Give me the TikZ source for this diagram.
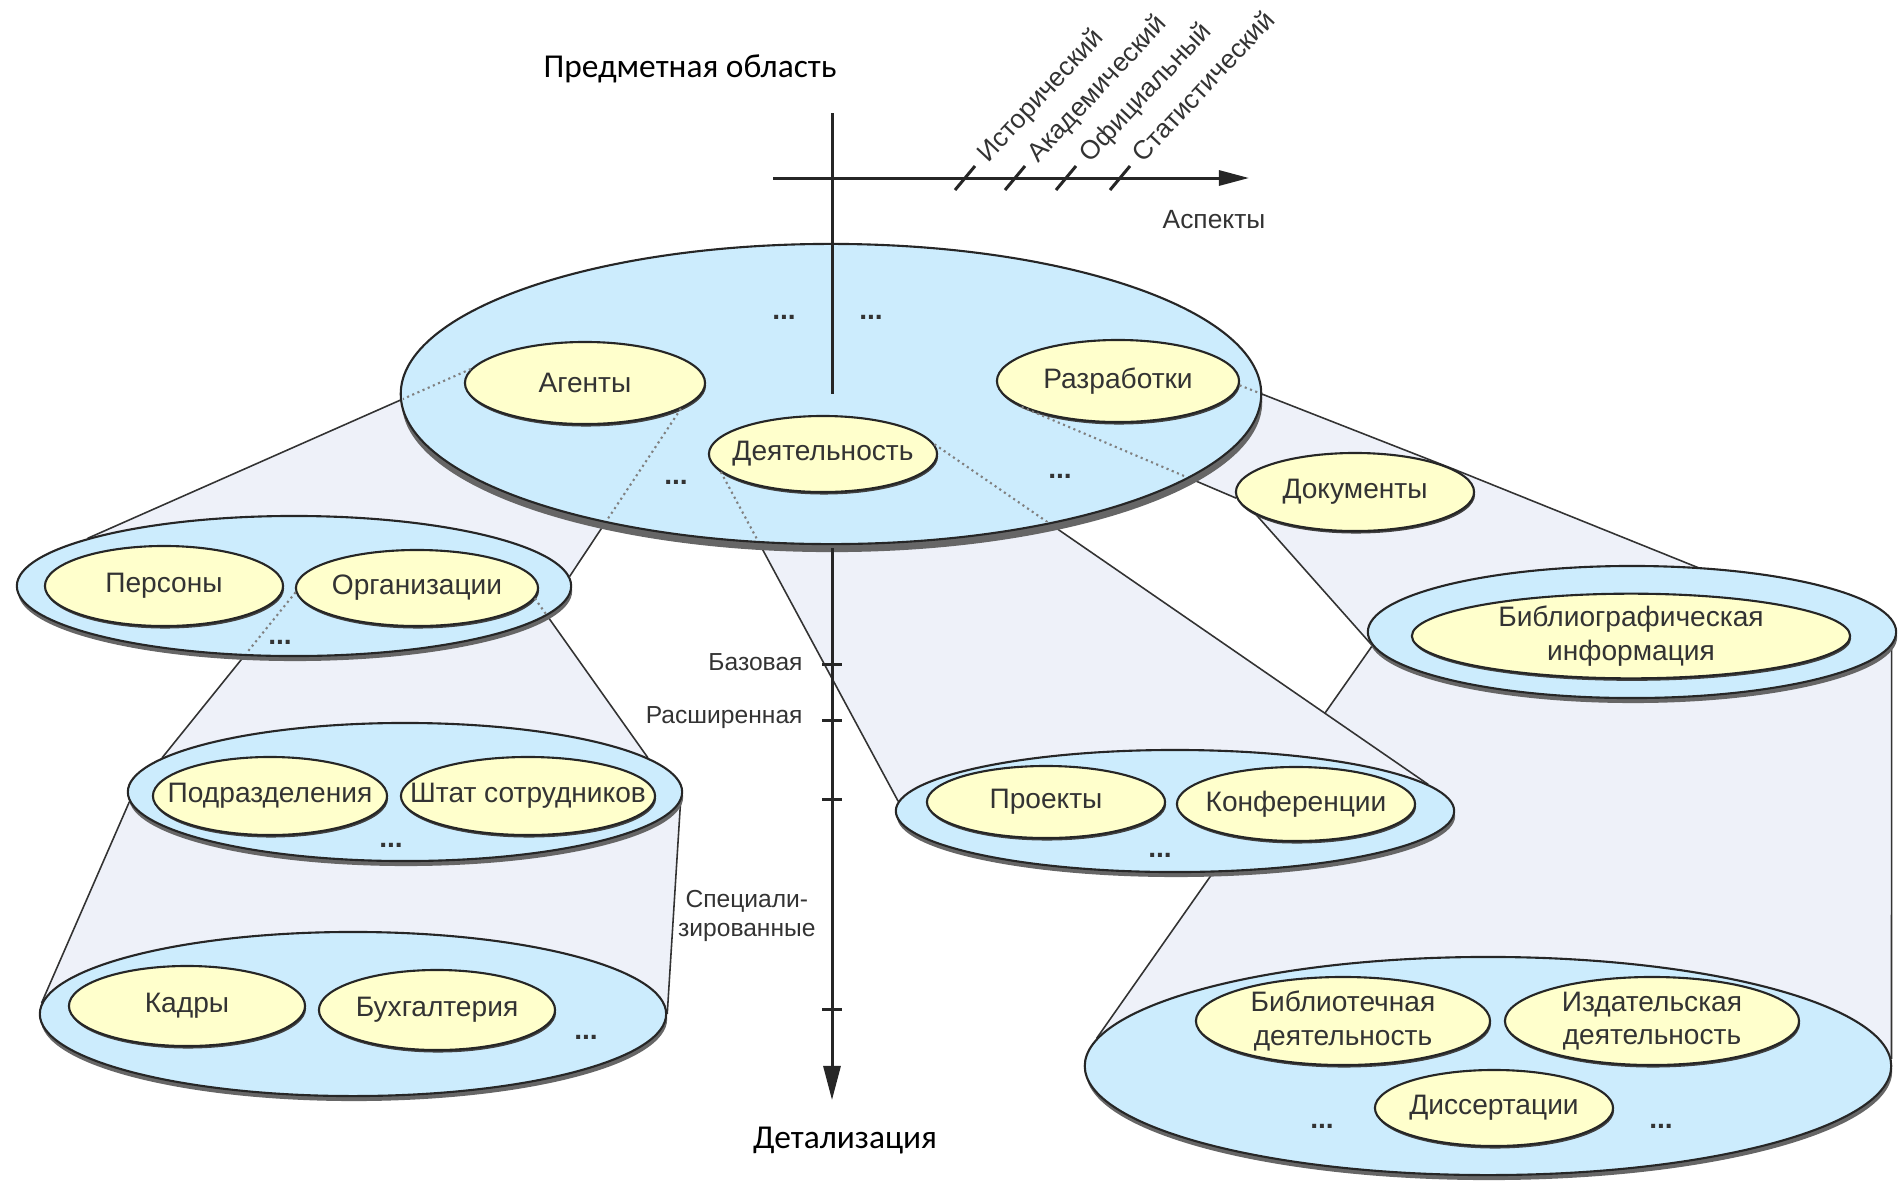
\documentclass[tikz,border=0pt]{standalone}
\usepackage{fontspec}
\usepackage{tikz}
\usetikzlibrary{shapes.geometric,arrows.meta,shadows,backgrounds}
\newfontfamily\arl{Liberation Sans}
\newfontfamily\clb{Carlito}
\definecolor{plat}{HTML}{CCECFD}
\definecolor{yel}{HTML}{FFFFCC}
\definecolor{funn}{HTML}{EEF1F9}
\definecolor{ink}{HTML}{333333}
\newcommand{\zw}[1]{\makebox[0pt]{#1}}

\begin{document}
\begin{tikzpicture}[x=0.01cm,y=-0.01cm,
  pl/.style={ellipse,draw=black!85,line width=0.6pt,fill=plat,inner sep=0pt,
    drop shadow={shadow xshift=0.01cm,shadow yshift=#1,fill=black!60,opacity=1}},
  pl/.default=-0.05cm,
  el/.style={ellipse,draw=black!85,line width=0.6pt,fill=yel,inner sep=0pt,align=center,
    text=ink,font=\arl\fontsize{8}{9.5}\selectfont,
    drop shadow={shadow xshift=0.01cm,shadow yshift=-0.025cm,fill=black!75,opacity=1}},
  fn/.style={fill=funn},
  ed/.style={draw=black!80,line width=0.45pt},
  dt/.style={draw=black!50,line width=0.6pt,densely dotted},
  dd/.style={text=ink,font=\arl\bfseries\fontsize{8}{9.5}\selectfont},
  ax/.style={draw=black!85,line width=0.85pt},
  lb/.style={text=ink,font=\arl\fontsize{7}{8.4}\selectfont},
  asp/.style={text=ink,font=\arl\fontsize{7.5}{9}\selectfont}]
\useasboundingbox (0,0) rectangle (1899,1184);

\node[pl=-0.08cm,minimum width=8.6cm,minimum height=3cm] (p0) at (831,394) {};
\node[pl,minimum width=5.54cm,minimum height=1.4cm] (p1) at (294,586) {};
\node[pl,minimum width=5.54cm,minimum height=1.38cm] (p2) at (405,792) {};
\node[pl,minimum width=6.26cm,minimum height=1.64cm] (p3) at (353,1014) {};
\node[pl,minimum width=5.58cm,minimum height=1.22cm] (p4) at (1175,811) {};
\node[pl,minimum width=5.28cm,minimum height=1.32cm] (p5) at (1632,632) {};
\node[pl,minimum width=8.06cm,minimum height=2.18cm] (p6) at (1488,1066) {};

\node[el,minimum width=2.4cm,minimum height=0.82cm] (ag) at (585,383) {\zw{Агенты}};
\node[el,minimum width=2.28cm,minimum height=0.76cm] (dey) at (823,454) {\zw{Деятельность}};
\node[el,minimum width=2.42cm,minimum height=0.82cm] (raz) at (1118,381) {\zw{Разработки}};
\node[el,minimum width=2.38cm,minimum height=0.8cm] (per) at (164,586) {\zw{Персоны}};
\node[el,minimum width=2.42cm,minimum height=0.76cm] (org) at (417,588) {\zw{Организации}};
\node[el,minimum width=2.34cm,minimum height=0.78cm] (pod) at (270,796) {\zw{Подразделения}};
\node[el,minimum width=2.54cm,minimum height=0.78cm] (sht) at (528,796) {\zw{Штат сотрудников}};
\node[el,minimum width=2.36cm,minimum height=0.8cm] (kad) at (187,1006) {\zw{Кадры}};
\node[el,minimum width=2.36cm,minimum height=0.8cm] (bux) at (437,1010) {\zw{Бухгалтерия}};
\node[el,minimum width=2.38cm,minimum height=0.72cm] (pro) at (1046,802) {\zw{Проекты}};
\node[el,minimum width=2.38cm,minimum height=0.74cm] (kon) at (1296,804) {\zw{Конференции}};
\node[el,minimum width=2.38cm,minimum height=0.78cm] (doc) at (1355,492) {\zw{Документы}};
\node[el,minimum width=4.38cm,minimum height=0.8cm] (bib) at (1631,636) {\zw{Библиографическая}\\\zw{информация}};
\node[el,minimum width=2.94cm,minimum height=0.88cm] (bil) at (1343,1021) {\zw{Библиотечная}\\\zw{деятельность}};
\node[el,minimum width=2.94cm,minimum height=0.88cm] (izd) at (1652,1021) {\zw{Издательская}\\\zw{деятельность}};
\node[el,minimum width=2.38cm,minimum height=0.76cm] (dis) at (1494,1108) {\zw{Диссертации}};

\node[dd] (t1) at (784,317) {...};
\node[dd] (t2) at (871,317) {...};
\node[dd] (t3) at (676,482) {...};
\node[dd] (t4) at (1060,476) {...};
\node[dd] (t5) at (280,642) {...};
\node[dd] (t6) at (391,845) {...};
\node[dd] (t7) at (586,1037) {...};
\node[dd] (t8) at (1160,855) {...};
\node[dd] (t9) at (1322,1126) {...};
\node[dd] (t10) at (1661,1126) {...};

\begin{scope}[on background layer]
\fill[fn] (p5.183) -- (p6.176) -- (p6.1) -- (p5.357) -- cycle;
\draw[ed] (p5.183) -- (p6.176); \draw[ed] (p5.357) -- (p6.1);
\fill[fn] (raz.195) -- (doc.183) -- (doc.193) -- (p5.183) -- (p5.357) -- (doc.13) -- (raz.358) -- cycle;
\draw[ed] (raz.195) -- (doc.183); \draw[ed] (doc.193) -- (p5.183); \draw[ed] (raz.358) -- (doc.13) -- (p5.357);
\fill[fn] (dey.190) -- (p4.178) -- (p4.6) -- (dey.5) -- cycle;
\draw[ed] (dey.190) -- (p4.178); \draw[ed] (dey.5) -- (p4.6);
\fill[fn] (ag.173) -- (p1.167) -- (p1.2) -- (ag.345) -- cycle;
\draw[ed] (ag.173) -- (p1.167); \draw[ed] (ag.345) -- (p1.2);
\fill[fn] (org.182) -- (p2.172) -- (p2.8) -- (org.355) -- cycle;
\draw[ed] (org.182) -- (p2.172); \draw[ed] (org.355) -- (p2.8);
\fill[fn] (p2.182) -- (p3.178) -- (p3.0) -- (p2.358) -- cycle;
\draw[ed] (p2.182) -- (p3.178); \draw[ed] (p2.358) -- (p3.0);
\end{scope}

\begin{scope}
\clip (831,394) ellipse [x radius=4.28cm,y radius=1.48cm];
\draw[dt] (ag.173) -- (p1.167); \draw[dt] (ag.345) -- (p1.2);
\draw[dt] (dey.190) -- (p4.178); \draw[dt] (dey.5) -- (p4.6);
\draw[dt] (raz.195) -- (doc.183); \draw[dt] (raz.358) -- (doc.13);
\end{scope}
\begin{scope}
\clip (294,586) ellipse [x radius=2.75cm,y radius=0.68cm];
\draw[dt] (org.182) -- (p2.172); \draw[dt] (org.355) -- (p2.8);
\end{scope}

\coordinate (ha) at (773,178);
\coordinate (hb) at (1249,178);
\coordinate (va) at (832,113);
\coordinate (vb) at (832,394);
\coordinate (vc) at (832,548);
\coordinate (vd) at (832,1100);
\draw[ax,-{Triangle[length=0.3cm,width=0.15cm]}] (ha) -- (hb);
\draw[ax] (va) -- (vb);
\draw[ax,-{Triangle[length=0.34cm,width=0.17cm]}] (vc) -- (vd);
\draw[ax] (955,190) -- (975,166); \draw[ax] (1005,190) -- (1025,166);
\draw[ax] (1056,190) -- (1076,166); \draw[ax] (1110,190) -- (1130,166);
\draw[ax] (822,664) -- (842,664); \draw[ax] (822,720) -- (842,720);
\draw[ax] (822,799) -- (842,799); \draw[ax] (822,1009) -- (842,1009);

\node[asp,rotate=47,anchor=base west,inner sep=0pt] (as1) at (988,164) {Исторический};
\node[asp,rotate=47,anchor=base west,inner sep=0pt] (as2) at (1038,164) {Академический};
\node[asp,rotate=47,anchor=base west,inner sep=0pt] (as3) at (1090,164) {Официальный};
\node[asp,rotate=47,anchor=base west,inner sep=0pt] (as4) at (1143,164) {Статистический};
\node[asp] (asp) at (1214,220) {Аспекты};
\node[font=\clb\fontsize{9.5}{11}\selectfont] (pre) at (690,69) {Предметная область};
\node[font=\clb\fontsize{9.5}{11}\selectfont] (det) at (845,1141) {Детализация};
\node[lb,anchor=east] (bas) at (815,662) {Базовая};
\node[lb,anchor=east] (ras) at (815,718) {Расширенная};
\node[lb,anchor=east,align=center] (spe) at (828,916) {Специали-\\зированные};
\end{tikzpicture}
\end{document}
